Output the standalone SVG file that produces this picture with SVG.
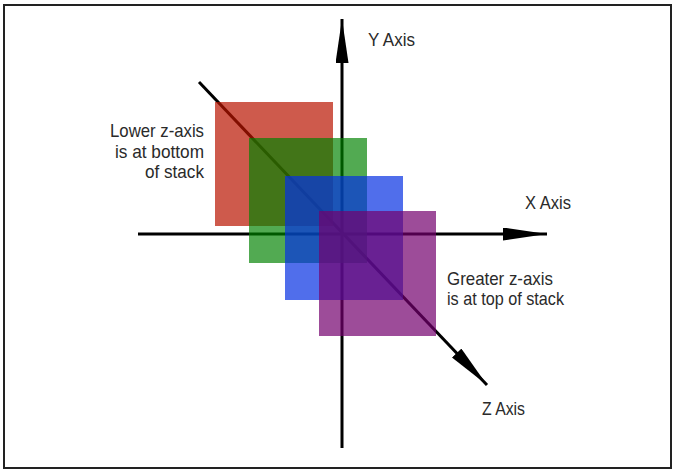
<svg xmlns="http://www.w3.org/2000/svg" width="675" height="472" viewBox="0 0 675 472">
  <style>
    .axis { stroke: #000; stroke-width: 3; fill: none; }
    .lbl { font-family: "Liberation Sans", Arial, sans-serif; font-size: 19px; fill: #2a2a2a; }
    .sq { stroke: none; }
  </style>
  <defs>
    <marker id="arrow" markerUnits="userSpaceOnUse" markerWidth="46" markerHeight="14" refX="44" refY="6.5" orient="auto">
      <path d="M0,0 L44,6.5 L0,13 Z" fill="#000"/>
    </marker>
  </defs>
  <rect x="0" y="0" width="675" height="472" fill="#fff"/>
  <rect id="frame" x="4" y="5" width="667" height="463" fill="none" stroke="#222" stroke-width="2"/>

  <g id="connectors">
    <line class="axis" x1="342" y1="448" x2="342" y2="19" marker-end="url(#arrow)"/>
    <line class="axis" x1="138" y1="234" x2="547" y2="234" marker-end="url(#arrow)"/>
    <line class="axis" x1="199" y1="82" x2="487" y2="385" marker-end="url(#arrow)"/>
  </g>

  <g id="red-square"><rect class="sq" x="215" y="102" width="118" height="124" fill="rgb(185,20,0)" fill-opacity="0.7"/></g>
  <g id="green-square"><rect class="sq" x="249" y="138" width="118" height="125" fill="rgb(0,130,0)" fill-opacity="0.68"/></g>
  <g id="blue-square"><rect class="sq" x="285" y="176" width="118" height="124" fill="rgb(5,48,226)" fill-opacity="0.7"/></g>
  <g id="purple-square"><rect class="sq" x="319" y="211" width="117" height="125" fill="rgb(115,0,110)" fill-opacity="0.7"/></g>

  <g id="y-label"><text class="lbl" x="368" y="46" textLength="47" lengthAdjust="spacingAndGlyphs">Y Axis</text></g>
  <g id="x-label"><text class="lbl" x="525" y="209" textLength="46" lengthAdjust="spacingAndGlyphs">X Axis</text></g>
  <g id="z-label"><text class="lbl" x="482" y="415" textLength="43" lengthAdjust="spacingAndGlyphs">Z Axis</text></g>

  <g id="lower-note">
    <text class="lbl" x="110" y="137" textLength="94" lengthAdjust="spacingAndGlyphs">Lower z-axis</text>
    <text class="lbl" x="115" y="157.5" textLength="89" lengthAdjust="spacingAndGlyphs">is at bottom</text>
    <text class="lbl" x="145" y="178" textLength="59" lengthAdjust="spacingAndGlyphs">of stack</text>
  </g>
  <g id="greater-note">
    <text class="lbl" x="447" y="285" textLength="106" lengthAdjust="spacingAndGlyphs">Greater z-axis</text>
    <text class="lbl" x="447" y="305" textLength="117" lengthAdjust="spacingAndGlyphs">is at top of stack</text>
  </g>
</svg>
